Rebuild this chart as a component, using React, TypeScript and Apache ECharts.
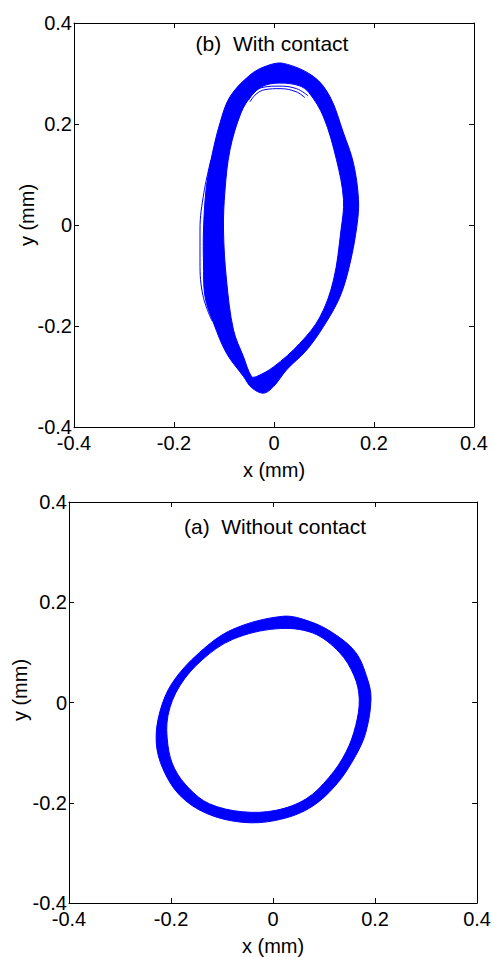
import React, { useEffect, useRef } from "react";
import * as echarts from "echarts";

// Axis ticks (mm)
const tickMin = -0.4;
const tickMax = 0.4;
const tickStep = 0.2;

// (b) With contact — band of orbit traces, outer and inner edges (x, y in mm)
const withContactOuter: number[][] = [
  [0.019, 0.32], [0.079, 0.294], [0.112, 0.254], [0.139, 0.182], [0.159, 0.122],
  [0.169, 0.05], [0.166, 0.0], [0.152, -0.076], [0.132, -0.142], [0.099, -0.201],
  [0.065, -0.248], [0.025, -0.287], [-0.001, -0.32], [-0.021, -0.333], [-0.045, -0.322],
  [-0.061, -0.3], [-0.095, -0.254], [-0.121, -0.194], [-0.138, -0.142], [-0.141, -0.075],
  [-0.141, -0.01], [-0.136, 0.069], [-0.126, 0.129], [-0.108, 0.202], [-0.088, 0.254],
  [-0.048, 0.297], [-0.015, 0.315],
];
const withContactInner: number[][] = [
  [0.01, 0.281], [0.05, 0.276], [0.07, 0.262], [0.099, 0.214], [0.125, 0.129],
  [0.139, 0.05], [0.134, -0.01], [0.119, -0.109], [0.092, -0.182], [0.052, -0.234],
  [-0.001, -0.281], [-0.035, -0.3], [-0.045, -0.3], [-0.061, -0.261], [-0.081, -0.208],
  [-0.095, -0.109], [-0.101, -0.01], [-0.098, 0.069], [-0.088, 0.149], [-0.066, 0.222],
  [-0.045, 0.256], [-0.022, 0.275],
];
// stray traces of the (b) band
const withContactStrayTop: number[][] = [
  [-0.05, 0.248], [-0.04, 0.264], [-0.02, 0.273], [0.01, 0.275], [0.045, 0.27], [0.068, 0.256],
];
const withContactStrayTop2: number[][] = [
  [-0.048, 0.244], [-0.036, 0.259], [-0.018, 0.268], [0.012, 0.27], [0.044, 0.264], [0.062, 0.252],
];
const withContactStrayLeft: number[][] = [
  [-0.126, 0.129], [-0.14, 0.065], [-0.148, -0.01], [-0.148, -0.075], [-0.142, -0.14], [-0.124, -0.19],
];

// (a) Without contact — band edges (x, y in mm)
const withoutContactOuter: number[][] = [
  [0.019, 0.172], [0.071, 0.162], [0.117, 0.139], [0.162, 0.1], [0.185, 0.047],
  [0.192, 0.007], [0.182, -0.059], [0.162, -0.106], [0.123, -0.165], [0.071, -0.211],
  [0.006, -0.235], [-0.06, -0.239], [-0.131, -0.221], [-0.183, -0.185], [-0.216, -0.132],
  [-0.229, -0.079], [-0.222, -0.019], [-0.197, 0.04], [-0.144, 0.1], [-0.079, 0.146],
];
const withoutContactInner: number[][] = [
  [0.006, 0.147], [0.077, 0.139], [0.13, 0.1], [0.159, 0.053], [0.169, 0.007],
  [0.162, -0.046], [0.143, -0.099], [0.11, -0.149], [0.065, -0.192], [0.006, -0.215],
  [-0.06, -0.218], [-0.125, -0.202], [-0.164, -0.172], [-0.193, -0.132], [-0.206, -0.086],
  [-0.206, -0.026], [-0.183, 0.033], [-0.138, 0.086], [-0.079, 0.126],
];

const titleB = "(b)  With contact";
const titleA = "(a)  Without contact";
const xName = "x (mm)";
const yName = "y (mm)";

const FONT = "Liberation Sans, Arial, Helvetica, sans-serif";
const BLUE = "#0000ff";
const FS = 20;

function polygonSeries(pts: number[][], gridIdx: number, fill: string, z: number, smooth: number) {
  return {
    type: "custom",
    xAxisIndex: gridIdx * 2,
    yAxisIndex: gridIdx * 2,
    data: pts,
    z,
    silent: true,
    clip: true,
    renderItem: (params: any, api: any) => {
      if (params.dataIndex !== 0) return null;
      const points = pts.map((p) => api.coord(p));
      return {
        type: "polygon",
        shape: { points, smooth },
        style: { fill, stroke: BLUE, lineWidth: 1 },
      };
    },
  };
}

function strayLine(pts: number[][], gridIdx: number) {
  return {
    type: "line",
    xAxisIndex: gridIdx * 2,
    yAxisIndex: gridIdx * 2,
    data: pts,
    z: 5,
    smooth: 0.4,
    showSymbol: false,
    silent: true,
    lineStyle: { color: BLUE, width: 1 },
  };
}

const fmt = (v: number) => String(Number(v.toFixed(1)));

function xAxes(gridIndex: number, gap: number) {
  const common = {
    gridIndex,
    type: "value",
    min: tickMin,
    max: tickMax,
    interval: tickStep,
    splitLine: { show: false },
    axisLine: { show: true, onZero: false, lineStyle: { color: "#000", width: 1 } },
    axisTick: { show: true, inside: true, length: 5, lineStyle: { color: "#000" } },
  };
  return [
    {
      ...common,
      position: "bottom",
      name: xName,
      nameLocation: "middle",
      nameGap: gap,
      nameTextStyle: { color: "#000", fontSize: FS, fontFamily: FONT },
      axisLabel: { color: "#000", fontSize: FS, fontFamily: FONT, margin: 6, formatter: fmt },
    },
    { ...common, position: "top", axisLabel: { show: false } },
  ];
}

function yAxes(gridIndex: number) {
  const common = {
    gridIndex,
    type: "value",
    min: tickMin,
    max: tickMax,
    interval: tickStep,
    splitLine: { show: false },
    axisLine: { show: true, onZero: false, lineStyle: { color: "#000", width: 1 } },
    axisTick: { show: true, inside: true, length: 5, lineStyle: { color: "#000" } },
  };
  return [
    {
      ...common,
      position: "left",
      axisLabel: { color: "#000", fontSize: FS, fontFamily: FONT, margin: 2, formatter: fmt },
    },
    { ...common, position: "right", axisLabel: { show: false } },
  ];
}

function text(t: string, x: number, y: number, size: number, rotation = 0) {
  return {
    type: "text",
    x,
    y,
    rotation,
    style: { text: t, fill: "#000", font: `${size}px ${FONT}`, align: "center", verticalAlign: "middle" },
  };
}

export default function App() {
  const ref = useRef<HTMLDivElement>(null);
  useEffect(() => {
    if (!ref.current) return;
    const chart = echarts.init(ref.current, null, { renderer: "svg" });
    chart.setOption({
      animation: false,
      backgroundColor: "#fff",
      grid: [
        { left: 74, top: 23, width: 400, height: 404 },
        { left: 69, top: 502, width: 409, height: 403 },
      ],
      xAxis: [...xAxes(0, 33), ...xAxes(1, 33)],
      yAxis: [...yAxes(0), ...yAxes(1)],
      graphic: [
        text(titleB, 272, 43, 21),
        text(titleA, 275, 526, 21),
        text(yName, 27, 215, FS, Math.PI / 2),
        text(yName, 20, 690, FS, Math.PI / 2),
      ],
      series: [
        polygonSeries(withContactOuter, 0, BLUE, 2, 0.35),
        polygonSeries(withContactInner, 0, "#fff", 3, 0.35),
        strayLine(withContactStrayTop, 0),
        strayLine(withContactStrayTop2, 0),
        strayLine(withContactStrayLeft, 0),
        polygonSeries(withoutContactOuter, 1, BLUE, 2, 0.35),
        polygonSeries(withoutContactInner, 1, "#fff", 3, 0.35),
      ],
    });
    return () => chart.dispose();
  }, []);
  return (
    <div
      ref={ref}
      style={{ position: "fixed", left: 0, top: 0, width: 494, height: 957, background: "#fff" }}
    />
  );
}
